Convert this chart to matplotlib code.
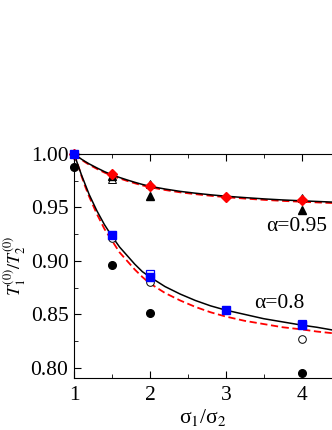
import matplotlib
matplotlib.use("Agg")
import matplotlib.pyplot as plt
from matplotlib.ticker import MultipleLocator, FormatStrFormatter

plt.rcParams["font.family"] = ["Liberation Serif", "DejaVu Serif"]
plt.rcParams["mathtext.fontset"] = "stix"

# theory curves
curve_x = [1.0, 1.05, 1.1, 1.15, 1.2, 1.3, 1.4, 1.5, 1.6, 1.7, 1.8, 1.9, 2.0,
           2.2, 2.4, 2.6, 2.8, 3.0, 3.25, 3.5, 3.75, 4.0, 4.2, 4.4]
a095_solid = [1.000, 0.9975, 0.995, 0.9928, 0.9907, 0.987, 0.9835, 0.9805, 0.978, 0.9757,
              0.9735, 0.9715, 0.9698, 0.9672, 0.965, 0.9633, 0.9618, 0.9605, 0.9592,
              0.958, 0.957, 0.9562, 0.9556, 0.955]
a095_dash = [1.000, 0.9972, 0.9945, 0.9921, 0.9899, 0.9861, 0.9826, 0.9796, 0.9771, 0.9748,
             0.9726, 0.9706, 0.9689, 0.9663, 0.9641, 0.9624, 0.9609, 0.9596, 0.9583,
             0.9571, 0.9561, 0.9553, 0.9547, 0.9541]
a08_solid = [1.000, 0.990, 0.980, 0.971, 0.962, 0.947, 0.934, 0.923, 0.913, 0.905, 0.897,
             0.890, 0.885, 0.876, 0.869, 0.863, 0.858, 0.854, 0.850, 0.846, 0.843, 0.840,
             0.838, 0.8355]
a08_dash = [1.000, 0.990, 0.979, 0.969, 0.960, 0.944, 0.930, 0.919, 0.908, 0.900, 0.892,
            0.885, 0.879, 0.870, 0.863, 0.857, 0.852, 0.848, 0.844, 0.841, 0.838, 0.836,
            0.834, 0.8325]

# alpha = 0.95 simulation points
open_tri_x = [1.5, 2, 4]
open_tri_y = [0.977, 0.972, 0.959]
fill_tri_x = [1.5, 2, 4]
fill_tri_y = [0.979, 0.961, 0.948]
diamond_x = [1, 1.5, 2, 3, 4]
diamond_y = [1.0, 0.981, 0.970, 0.960, 0.957]

# alpha = 0.8 simulation points
open_sq_x = [2, 4]
open_sq_y = [0.888, 0.841]
fill_sq_x = [1, 1.5, 2, 3, 4]
fill_sq_y = [1.0, 0.924, 0.885, 0.854, 0.840]
open_circ_x = [1.5, 2, 4]
open_circ_y = [0.921, 0.880, 0.827]
fill_circ_x = [1, 1.5, 2, 4]
fill_circ_y = [0.988, 0.896, 0.851, 0.795]

fig = plt.figure(figsize=(3.32, 4.30), dpi=100)
ax = fig.add_axes([0.223, 0.121, 0.777, 0.521])

ax.plot(curve_x, a095_dash, "--", color="red", lw=1.3, dashes=(4, 2))
ax.plot(curve_x, a095_solid, "-", color="black", lw=1.1)
ax.plot(curve_x, a08_dash, "--", color="red", lw=1.3, dashes=(4, 2))
ax.plot(curve_x, a08_solid, "-", color="black", lw=1.1)

ax.plot(open_tri_x, open_tri_y, "^", mfc="white", mec="black", mew=0.7, ms=6, ls="none")
ax.plot(fill_tri_x, fill_tri_y, "^", color="black", ms=6, ls="none")
ax.plot(diamond_x, diamond_y, "D", color="red", ms=5, ls="none", clip_on=False)

ax.plot(open_circ_x, open_circ_y, "o", mfc="white", mec="black", mew=0.7, ms=5.5, ls="none")
ax.plot(fill_circ_x, fill_circ_y, "o", color="black", ms=5.5, ls="none", clip_on=False)
ax.plot(open_sq_x, open_sq_y, "s", mfc="white", mec="blue", mew=0.9, ms=5.5, ls="none")
ax.plot(fill_sq_x, fill_sq_y, "s", color="blue", ms=5.5, ls="none", zorder=5, clip_on=False)

ax.set_xlim(1, 4.4)
ax.set_ylim(0.7906, 1.0)
ax.xaxis.set_major_locator(MultipleLocator(1))
ax.xaxis.set_minor_locator(MultipleLocator(0.5))
ax.yaxis.set_major_locator(MultipleLocator(0.05))
ax.yaxis.set_minor_locator(MultipleLocator(0.025))
ax.yaxis.set_major_formatter(FormatStrFormatter("%.2f"))
ax.tick_params(which="both", direction="in", top=True, right=False, labelsize=15.5)
ax.tick_params(which="major", length=5)
ax.tick_params(which="minor", length=3)
ax.tick_params(axis="x", pad=6)
ax.tick_params(axis="y", pad=4)
ax.spines["right"].set_visible(False)

ax.set_xlabel(r"σ$_1$/σ$_2$", fontsize=15.5, labelpad=1)
ax.set_ylabel(r"$T_1^{(0)}/T_2^{(0)}$", fontsize=13)
ax.yaxis.set_label_coords(-0.175, 0.5)

ax.text(3.93, 0.932, "α=0.95", fontsize=15.5, ha="center", va="center")
ax.text(3.70, 0.8606, "α=0.8", fontsize=15.5, ha="center", va="center")

fig.savefig("out.png", dpi=100)
